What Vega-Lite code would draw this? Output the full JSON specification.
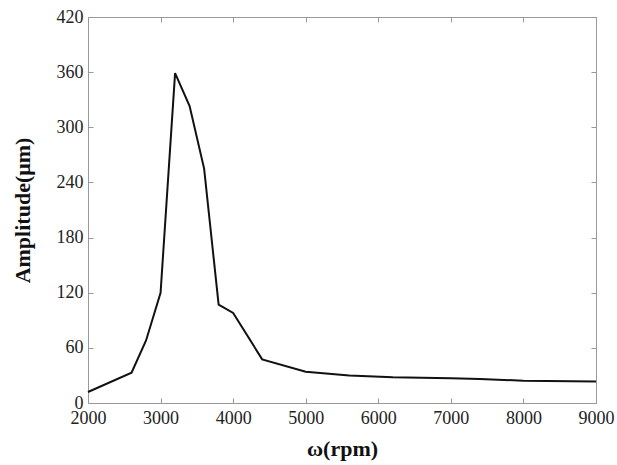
{
  "$schema": "https://vega.github.io/schema/vega-lite/v6.json",
  "width": 508,
  "height": 386,
  "autosize": "none",
  "padding": {"left": 88, "top": 17, "right": 21, "bottom": 62},
  "background": "white",
  "config": {
    "view": {"stroke": "#999999", "strokeWidth": 1},
    "font": "Liberation Serif",
    "axis": {
      "grid": false,
      "domain": false,
      "tickColor": "#999999",
      "tickSize": -5,
      "labelFlush": false,
      "labelFont": "Liberation Serif",
      "labelFontSize": 18,
      "labelColor": "#222222",
      "titleFont": "Liberation Serif",
      "titleFontSize": 22,
      "titleFontWeight": "bold",
      "titleColor": "#111111"
    }
  },
  "data": {
    "values": [
      {"rpm": 2000, "amp": 12},
      {"rpm": 2600, "amp": 33},
      {"rpm": 2800, "amp": 68},
      {"rpm": 3000, "amp": 120},
      {"rpm": 3200, "amp": 359},
      {"rpm": 3400, "amp": 323},
      {"rpm": 3600, "amp": 255},
      {"rpm": 3800, "amp": 107},
      {"rpm": 4000, "amp": 98},
      {"rpm": 4400, "amp": 47.5},
      {"rpm": 5000, "amp": 34},
      {"rpm": 5600, "amp": 30},
      {"rpm": 6200, "amp": 28},
      {"rpm": 7000, "amp": 27},
      {"rpm": 7400, "amp": 26},
      {"rpm": 8000, "amp": 24.3},
      {"rpm": 9000, "amp": 23.5}
    ]
  },
  "layer": [
    {
      "mark": {"type": "line", "color": "#111111", "strokeWidth": 2},
      "encoding": {
        "x": {"field": "rpm", "type": "quantitative", "scale": {"domain": [2000, 9000], "nice": false, "zero": false},
              "axis": {"values": [2000,3000,4000,5000,6000,7000,8000,9000], "format": "d", "labelFont": "Liberation Serif", "labelFlush": false, "title": "ω(rpm)", "labelPadding": 11, "titlePadding": 11}},
        "y": {"field": "amp", "type": "quantitative", "scale": {"domain": [0, 420], "nice": false},
              "axis": {"values": [0,60,120,180,240,300,360,420], "format": "d", "labelFont": "Liberation Serif", "labelFlush": false, "title": "Amplitude(μm)", "labelPadding": 10, "titlePadding": 22}}
      }
    },
    {
      "mark": {"type": "line", "opacity": 0},
      "encoding": {
        "x": {"field": "rpm", "type": "quantitative", "scale": {"domain": [2000, 9000], "nice": false, "zero": false},
              "axis": {"orient": "top", "values": [2000,3000,4000,5000,6000,7000,8000,9000], "labels": false, "title": null}},
        "y": {"field": "amp", "type": "quantitative", "scale": {"domain": [0, 420], "nice": false},
              "axis": {"orient": "right", "values": [0,60,120,180,240,300,360,420], "labels": false, "title": null}}
      }
    }
  ],
  "resolve": {"axis": {"x": "independent", "y": "independent"}}
}
